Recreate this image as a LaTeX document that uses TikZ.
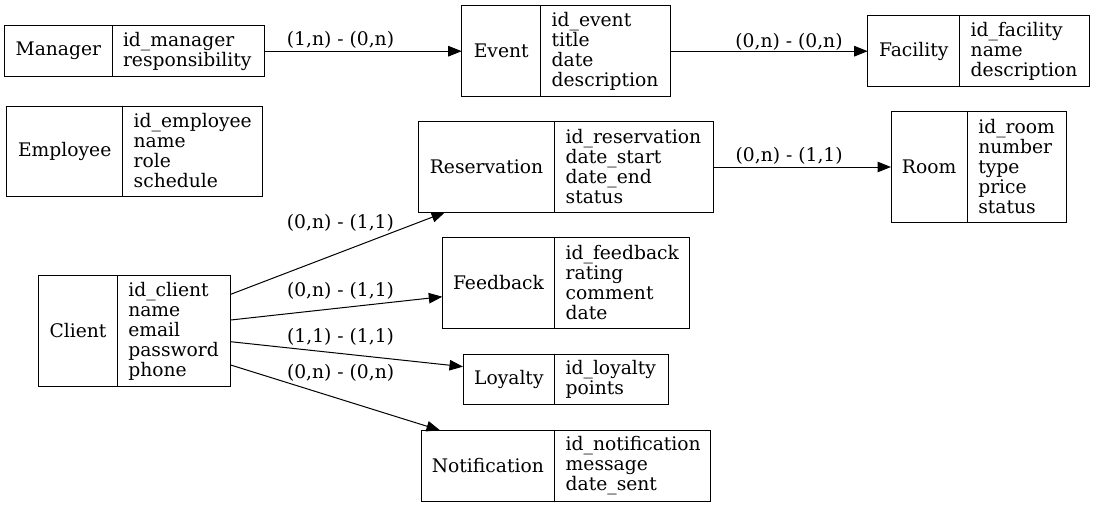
\documentclass[tikz,border=0pt]{standalone}
\usepackage{fontspec}
\setmainfont{DejaVu Serif}
\usetikzlibrary{arrows.meta}
\tikzset{
  base/.style={font=\fontsize{18.7}{20}\selectfont},
  namebox/.style={base, draw=black, line width=1pt, anchor=north west, inner sep=0pt, outer sep=0pt, align=center},
  fieldbox/.style={draw=black, line width=1pt, anchor=north west, inner sep=0pt, outer sep=0pt},
  fieldtext/.style={base, anchor=west, align=left, inner sep=0pt, outer sep=0pt},
  edge/.style={draw=black, line width=1pt, -{Triangle[length=13.5pt,width=10.5pt]}},
  elabel/.style={base, inner sep=0pt, anchor=center}
}
\newcommand\erbox[8]{%
  \node[namebox, minimum width=#4, minimum height=#5] (#1) at (#2,#3) {#7};
  \node[fieldbox, minimum width=#6, minimum height=#5] (#1F) at (#1.north east) {};
  \node[fieldtext] (#1T) at ([xshift=11pt]#1F.west) {#8};
}
\begin{document}
\begin{tikzpicture}[x=1pt, y=-1pt]
\useasboundingbox (0,0) rectangle (1095,507);
\erbox{man}{4.7}{25.7}{107.3}{51}{152.3}{Manager}{id\_manager\\responsibility}
\erbox{emp}{6.7}{106}{116}{90}{140}{Employee}{id\_employee\\name\\role\\schedule}
\erbox{cli}{38.7}{275.7}{78.6}{110.6}{113.4}{Client}{id\_client\\name\\email\\password\\phone}
\erbox{ev}{461.7}{5.7}{79}{91}{129.3}{Event}{id\_event\\title\\date\\description}
\erbox{fac}{867.7}{15.7}{92}{71}{129.6}{Facility}{id\_facility\\name\\description}
\erbox{res}{418.3}{121.7}{136.4}{90.6}{158.6}{Reservation}{id\_reservation\\date\_start\\date\_end\\status}
\erbox{room}{891}{111.7}{76.3}{110.6}{98.7}{Room}{id\_room\\number\\type\\price\\status}
\erbox{fb}{442.3}{237.7}{112.4}{90.6}{134.6}{Feedback}{id\_feedback\\rating\\comment\\date}
\erbox{loy}{463}{354}{91.7}{50.3}{114}{Loyalty}{id\_loyalty\\points}
\erbox{notif}{421}{430.3}{133.7}{70.7}{156}{Notification}{id\_notification\\message\\date\_sent}

\draw[edge] (manF.east) -- (ev.west) node[elabel, pos=0.386, yshift=11pt] {(1,n) - (0,n)};
\draw[edge] (evF.east) -- (fac.west) node[elabel, pos=0.602, yshift=9.5pt] {(0,n) - (0,n)};
\draw[edge] (resF.east) -- (room.west) node[elabel, pos=0.427, yshift=11pt] {(0,n) - (1,1)};
\draw[edge] ([yshift=36.7pt]cliF.east) -- ([xshift=26.7pt]res.south west) node[elabel, pos=0.512, yshift=29.3pt] {(0,n) - (1,1)};
\draw[edge] ([yshift=11pt]cliF.east) -- ([yshift=-13.7pt]fb.west) node[elabel, pos=0.519, yshift=17.2pt] {(0,n) - (1,1)};
\draw[edge] ([yshift=-10.7pt]cliF.east) -- ([yshift=12.5pt]loy.west) node[elabel, pos=0.473, yshift=16.2pt] {(1,1) - (1,1)};
\draw[edge] ([yshift=-34pt]cliF.east) -- ([xshift=19pt]notif.north west) node[elabel, pos=0.525, yshift=26pt] {(0,n) - (0,n)};
\end{tikzpicture}
\end{document}
